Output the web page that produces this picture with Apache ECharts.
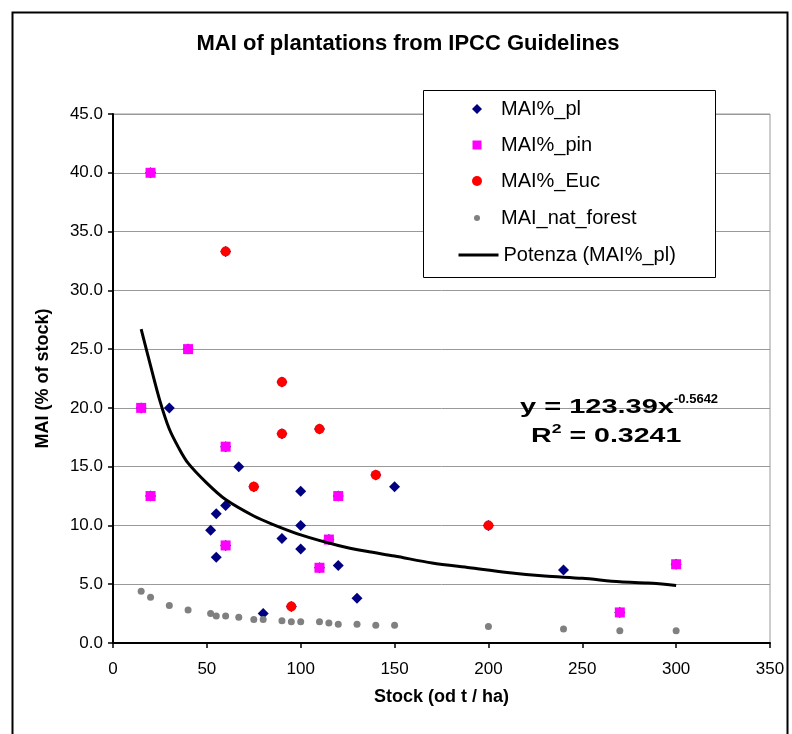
<!DOCTYPE html>
<html>
<head>
<meta charset="utf-8">
<script src="https://cdn.jsdelivr.net/npm/echarts@6/dist/echarts.min.js"></script>
<style>
html,body{margin:0;padding:0;background:#fff;}
#chart{width:792px;height:734px;}
</style>
</head>
<body>
<div id="chart"></div>
<script>
// ---- data ----
const titleText = 'MAI of plantations from IPCC Guidelines';
const xName = 'Stock (od t / ha)';
const yName = 'MAI (% of stock)';
const xMin = 0, xMax = 350, xStep = 50;
const yMin = 0, yMax = 45, yStep = 5;

// MAI%_pl (all plantation points, incl. those overlaid by pin / Euc)
const plStock = [30, 67, 100, 60, 55, 52, 100, 90, 100, 55, 120, 80, 150, 130, 240,
                 20, 40, 15, 60, 20, 120, 60, 115, 110, 270, 300,
                 60, 90, 90, 110, 75, 140, 200, 95];
const plMai   = [20.0, 15.0, 12.9, 11.7, 11.0, 9.6, 10.0, 8.9, 8.0, 7.3, 6.6, 2.5, 13.3, 3.8, 6.2,
                 40.0, 25.0, 20.0, 16.7, 12.5, 12.5, 8.3, 8.8, 6.4, 2.6, 6.7,
                 33.3, 22.2, 17.8, 18.2, 13.3, 14.3, 10.0, 3.1];
// MAI%_pin
const pinStock = [20, 40, 15, 60, 20, 120, 60, 115, 110, 270, 300];
const pinMai   = [40.0, 25.0, 20.0, 16.7, 12.5, 12.5, 8.3, 8.8, 6.4, 2.6, 6.7];
// MAI%_Euc
const eucStock = [60, 90, 90, 110, 75, 140, 200, 95];
const eucMai   = [33.3, 22.2, 17.8, 18.2, 13.3, 14.3, 10.0, 3.1];
// MAI_nat_forest
const natStock = [15, 20, 30, 40, 52, 55, 60, 67, 75, 80, 90, 95, 100, 110, 115, 120, 130, 140, 150, 200, 240, 270, 300];
const natMai   = [4.4, 3.9, 3.2, 2.8, 2.5, 2.3, 2.3, 2.2, 2.0, 2.0, 1.9, 1.8, 1.8, 1.8, 1.7, 1.6, 1.6, 1.5, 1.5, 1.4, 1.2, 1.05, 1.05];
// Potenza (MAI%_pl) trend line
const trendStock = [15, 20, 25, 30, 35, 40, 50, 60, 75, 85, 100, 120, 135, 150, 170, 190, 210, 230, 250, 270, 285, 300];
const trendMai   = [26.7, 23.6, 20.6, 18.2, 16.6, 15.3, 13.6, 12.2, 10.8, 10.1, 9.2, 8.3, 7.8, 7.4, 6.8, 6.4, 6.0, 5.7, 5.5, 5.2, 5.1, 4.9];
const eqCoef = '123.39', eqExp = '-0.5642', eqR2 = '0.3241';

const seriesNames = ['MAI%_pl', 'MAI%_pin', 'MAI%_Euc', 'MAI_nat_forest', 'Potenza (MAI%_pl)'];

function pairs(xs, ys) { return xs.map((x, i) => [x, ys[i]]); }

const FONT = '"Liberation Sans", Arial, sans-serif';
const chart = echarts.init(document.getElementById('chart'), null, {renderer: 'canvas'});

// legend layout
const legendRows = [109, 145, 181, 218, 255];
const legendIcon = ['diamond', 'rect', 'circle', 'circle', null];
const legendIconSize = [10, 9, 10, 6, 0];
const iconCenterX = 477, textStartX = 501;
const legends = seriesNames.map((n, i) => {
  const isLine = i === 4;
  const s = legendIconSize[i];
  const w = isLine ? 40 : s;
  const h = isLine ? 14 : s;
  const left = isLine ? 457 : iconCenterX - s / 2;
  const textPad = textStartX - (left + w + 5);
  return {
    data: [isLine ? {name: n} : {name: n, icon: legendIcon[i]}],
    left: left,
    top: legendRows[i] - 10,
    orient: 'vertical',
    padding: 0,
    itemWidth: w,
    itemHeight: h,
    itemGap: 0,
    symbolKeepAspect: true,
    selectedMode: false,
    z: 10,
    itemStyle: isLine ? {opacity: 0} : {},
    lineStyle: {width: 3, color: '#000'},
    textStyle: {fontFamily: FONT, fontSize: 20, color: '#000', lineHeight: 20,
                padding: [0, 0, 0, Math.max(0, textPad)]}
  };
});

const eqRich = {
  b: {fontFamily: FONT, fontSize: 21, fontWeight: 'bold', fill: '#000', verticalAlign: 'bottom', lineHeight: 24},
  s: {fontFamily: FONT, fontSize: 13, fontWeight: 'bold', fill: '#000', verticalAlign: 'top', lineHeight: 24}
};

const option = {
  animation: false,
  backgroundColor: '#fff',
  title: {
    text: titleText,
    left: 408, top: 33, textAlign: 'center', padding: 0,
    textStyle: {fontFamily: FONT, fontSize: 22, fontWeight: 'bold', color: '#000'}
  },
  legend: legends,
  grid: {
    left: 113, top: 114, width: 657, height: 529,
    show: true, borderColor: '#999', borderWidth: 1, backgroundColor: 'transparent'
  },
  xAxis: {
    type: 'value', min: xMin, max: xMax, interval: xStep,
    name: xName, nameLocation: 'middle', nameGap: 45,
    nameTextStyle: {fontFamily: FONT, fontSize: 18, fontWeight: 'bold', color: '#000'},
    axisLine: {show: true, onZero: false, lineStyle: {color: '#000', width: 2}},
    axisTick: {show: true, inside: false, length: 5, lineStyle: {color: '#000', width: 1.5}},
    axisLabel: {fontFamily: FONT, fontSize: 17, color: '#000', margin: 18},
    splitLine: {show: false}
  },
  yAxis: {
    type: 'value', min: yMin, max: yMax, interval: yStep,
    name: yName, nameLocation: 'middle', nameGap: 61,
    nameTextStyle: {fontFamily: FONT, fontSize: 18, fontWeight: 'bold', color: '#000'},
    axisLine: {show: true, onZero: false, lineStyle: {color: '#000', width: 2}},
    axisTick: {show: true, inside: false, length: 5, lineStyle: {color: '#000', width: 1.5}},
    axisLabel: {fontFamily: FONT, fontSize: 17, color: '#000', margin: 10,
      formatter: v => v.toFixed(1)},
    splitLine: {show: true, lineStyle: {color: '#999', width: 1}}
  },
  graphic: [
    {type: 'rect', left: 10, top: 10, z: 0, silent: true,
     shape: {width: 775, height: 760},
     style: {fill: 'none', stroke: '#000', lineWidth: 2}},
    {type: 'rect', left: 423, top: 90, z: 5, silent: true,
     shape: {width: 292, height: 187},
     style: {fill: '#fff', stroke: '#000', lineWidth: 1}},
    {type: 'text', x: 520, y: 394, scaleX: 1.38, z: 6, silent: true,
     style: {text: '{b|y = ' + eqCoef + 'x}', rich: eqRich}},
    {type: 'text', x: 674, y: 393, z: 6, silent: true,
     style: {text: eqExp, fontFamily: FONT, fontSize: 13, fontWeight: 'bold', fill: '#000'}},
    {type: 'text', x: 531, y: 423, scaleX: 1.36, z: 6, silent: true,
     style: {text: '{b|R}{s|2}{b| = ' + eqR2 + '}', rich: eqRich}}
  ],
  series: [
    {name: seriesNames[0], type: 'scatter', symbol: 'diamond', symbolSize: 11,
     itemStyle: {color: '#000080', opacity: 1}, data: pairs(plStock, plMai), z: 2},
    {name: seriesNames[1], type: 'scatter', symbol: 'rect', symbolSize: 10,
     itemStyle: {color: '#ff00ff', opacity: 1}, data: pairs(pinStock, pinMai), z: 2},
    {name: seriesNames[2], type: 'scatter', symbol: 'circle', symbolSize: 10,
     itemStyle: {color: '#ff0000', opacity: 1}, data: pairs(eucStock, eucMai), z: 2},
    {name: seriesNames[3], type: 'scatter', symbol: 'circle', symbolSize: 7,
     itemStyle: {color: '#808080', opacity: 1}, data: pairs(natStock, natMai), z: 2},
    {name: seriesNames[4], type: 'line', symbol: 'none', smooth: 0.3,
     lineStyle: {color: '#000', width: 3}, itemStyle: {color: '#000'},
     data: pairs(trendStock, trendMai), z: 3}
  ]
};
chart.setOption(option);
</script>
</body>
</html>
